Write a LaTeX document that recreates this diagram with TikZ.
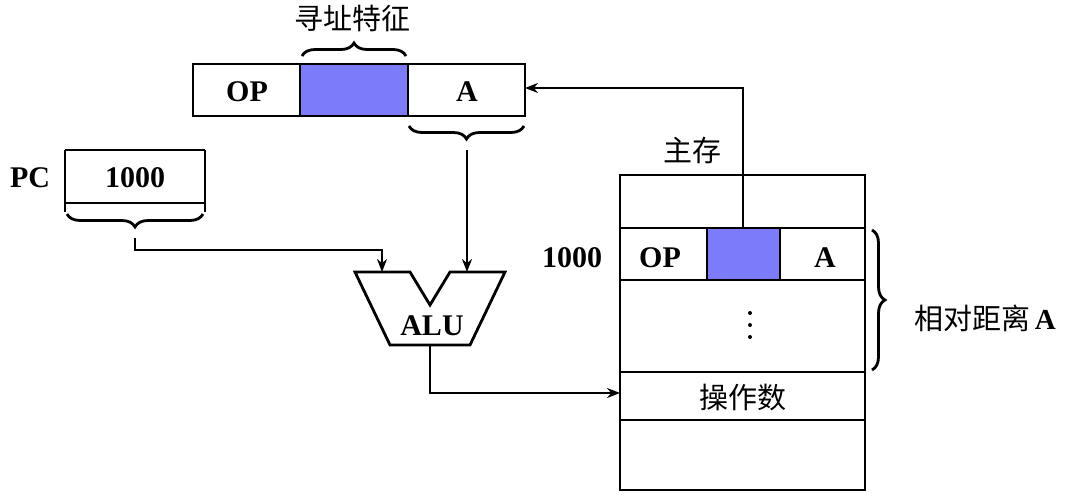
\documentclass[tikz,border=0pt]{standalone}
\usepackage{fontspec}
\setmainfont{Liberation Serif}
\newfontfamily\cjk{Noto Sans CJK SC}
\usetikzlibrary{decorations.pathreplacing,arrows.meta}
\definecolor{fieldblue}{RGB}{124,124,250}
\begin{document}
\begin{tikzpicture}[x=1pt,y=-1pt,
  box/.style={draw,line width=2.8pt},
  lab/.style={font=\fontsize{30}{30}\selectfont\bfseries},
  cj/.style={font=\fontsize{29}{29}\selectfont\cjk},
  br/.style={decorate,decoration={brace,amplitude=13pt},line width=2.8pt},
  arr/.style={line width=2.4pt,-{Stealth[length=13pt,width=10pt]}}]
\useasboundingbox (0,0) rectangle (1079,498);
% instruction register
\fill[fieldblue] (300,64) rectangle (408,116);
\draw[box] (193,64) rectangle (525,116);
\draw[box] (300,64) -- (300,116) (408,64) -- (408,116);
\node[lab] (op1) at (247,92) {OP};
\node[lab] (a1) at (467,92) {A};
\draw[br] (302,56) -- (406,56);
\node[cj] (feat) at (352,18) {寻址特征};
\draw[br] (524,126) -- (409,126);
\coordinate (abr) at (467,150);
% PC
\node[lab] (pc) at (30,178) {PC};
\draw[box] (65,150) -- (65,212) (205,150) -- (205,212) (65,150) -- (205,150);
\draw[box] (65,203) -- (205,203);
\node[lab] (pcv) at (135,178) {1000};
\draw[br] (203,214) -- (67,214);
\coordinate (pbr) at (135,238);
% ALU
\draw[box] (355,272) -- (410,272) -- (430,305) -- (450,272) -- (505,272) -- (470,345) -- (390,345) -- cycle;
\node[lab] (alu) at (432,326) {ALU};
\draw[arr] (abr) -- (467,272);
\draw[arr] (pbr) -- (135,250) -- (382,250) -- (382,272);
% memory
\fill[fieldblue] (707,228) rectangle (780,280);
\draw[box] (620,175) rectangle (865,490);
\draw[box] (620,228) -- (865,228) (620,280) -- (865,280) (620,372) -- (865,372) (620,420) -- (865,420);
\draw[box] (707,228) -- (707,280) (780,228) -- (780,280);
\node[cj] (mem) at (692,150) {主存};
\node[lab] (addr) at (572,258) {1000};
\node[lab] (op2) at (660,258) {OP};
\node[lab] (a2) at (825,258) {A};
\foreach \yy in {313,325,337} \fill (750,\yy) circle (2pt);
\coordinate (dots) at (750,325);
\node[cj] (opd) at (743,398) {操作数};
\draw[br] (872,230) -- (872,370);
\node[font=\fontsize{29}{29}\selectfont] (rel) at (985,318) {{\cjk 相对距离}\,\textbf{A}};
\coordinate (mb) at (743,228);
\coordinate (ain) at (525,88);
\draw[arr] (mb) -- (743,88) -- (ain);
\draw[arr] (430,345) -- (430,393) -- (620,393);
\end{tikzpicture}
\end{document}
